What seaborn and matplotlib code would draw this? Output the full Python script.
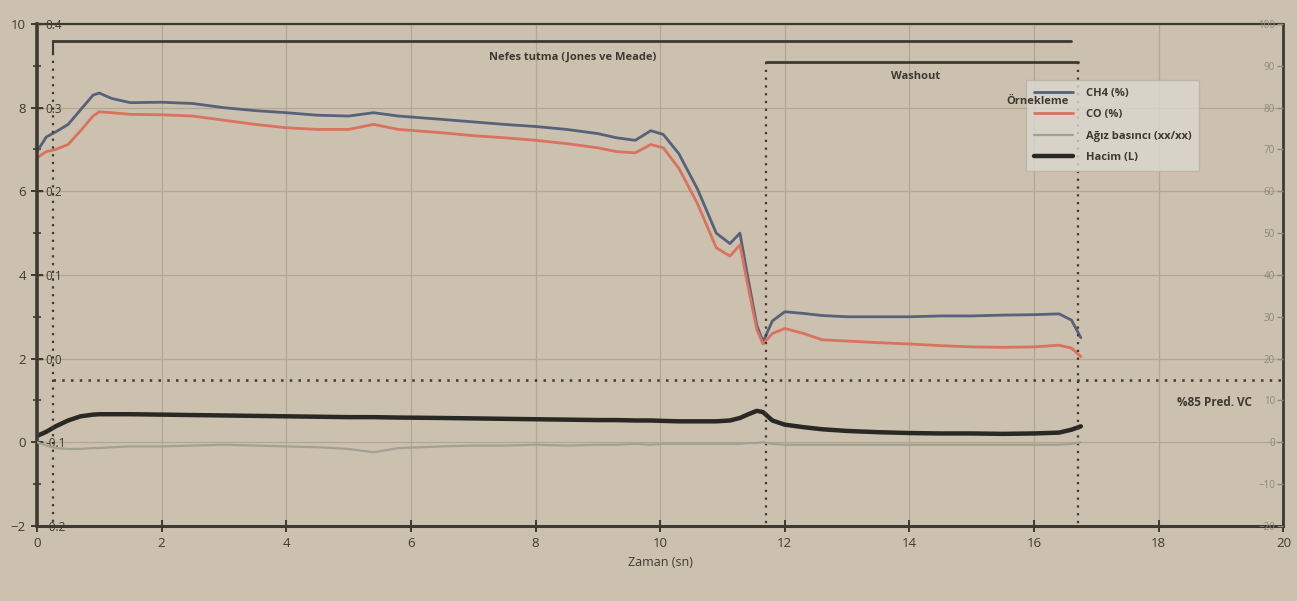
import seaborn as sns
import matplotlib.pyplot as plt
import pandas as pd
from matplotlib.ticker import MultipleLocator

# values (left axis units)
zaman = [0, 0.15, 0.3, 0.5, 0.7, 0.9, 1.0, 1.2, 1.5, 2, 2.5, 3, 3.5, 4, 4.5, 5,
         5.4, 5.8, 6.5, 7, 7.5, 8, 8.5, 9, 9.3, 9.6, 9.85, 10.05, 10.3, 10.6,
         10.9, 11.12, 11.28, 11.4, 11.55, 11.65, 11.8, 12.0, 12.3, 12.6, 13,
         13.5, 14, 14.5, 15, 15.5, 16, 16.4, 16.6, 16.75]
ch4 = [6.95, 7.3, 7.42, 7.6, 7.95, 8.3, 8.35, 8.22, 8.12, 8.13, 8.1, 8.0, 7.93,
       7.88, 7.82, 7.8, 7.88, 7.8, 7.72, 7.66, 7.6, 7.55, 7.48, 7.38, 7.28,
       7.22, 7.45, 7.36, 6.9, 6.05, 5.0, 4.75, 5.0, 4.0, 2.8, 2.4, 2.9, 3.12,
       3.08, 3.03, 3.0, 3.0, 3.0, 3.02, 3.02, 3.04, 3.05, 3.07, 2.92, 2.5]
co = [6.8, 6.95, 7.0, 7.12, 7.45, 7.8, 7.9, 7.88, 7.84, 7.83, 7.8, 7.7, 7.6,
      7.52, 7.48, 7.48, 7.6, 7.48, 7.4, 7.33, 7.28, 7.22, 7.14, 7.04, 6.95,
      6.92, 7.12, 7.04, 6.55, 5.7, 4.65, 4.45, 4.72, 3.8, 2.7, 2.35, 2.6, 2.72,
      2.6, 2.45, 2.42, 2.38, 2.35, 2.31, 2.28, 2.27, 2.28, 2.32, 2.25, 2.05]
hacim = [0.15, 0.25, 0.38, 0.52, 0.62, 0.66, 0.67, 0.67, 0.67, 0.66, 0.65, 0.64,
         0.63, 0.62, 0.61, 0.6, 0.6, 0.59, 0.58, 0.57, 0.56, 0.55, 0.54, 0.53,
         0.53, 0.52, 0.52, 0.51, 0.5, 0.5, 0.5, 0.52, 0.58, 0.66, 0.75, 0.72,
         0.52, 0.42, 0.36, 0.31, 0.27, 0.24, 0.22, 0.21, 0.21, 0.2, 0.21, 0.23,
         0.3, 0.38]
# mouth pressure, inner left axis units
agiz = [-0.1, -0.104, -0.107, -0.108, -0.108, -0.107, -0.107, -0.106, -0.105,
        -0.105, -0.104, -0.103, -0.104, -0.105, -0.106, -0.108, -0.112, -0.107,
        -0.105, -0.104, -0.104, -0.103, -0.104, -0.103, -0.103, -0.102, -0.103,
        -0.102, -0.102, -0.102, -0.102, -0.102, -0.102, -0.101, -0.101, -0.1,
        -0.102, -0.103, -0.103, -0.103, -0.103, -0.103, -0.103, -0.103, -0.103,
        -0.103, -0.103, -0.103, -0.102, -0.1]

sol_ticks = [-2, 0, 2, 4, 6, 8, 10]
ic_ticks = [-0.2, -0.1, 0.0, 0.1, 0.2, 0.3, 0.4]
sag_ticks = list(range(-20, 101, 10))
x_ticks = list(range(0, 21, 2))

pred_vc = 1.5
nefes = (0.25, 16.6)
washout = (11.7, 16.7)

sns.set_theme(style="ticks")
plt.rcParams['font.family'] = ['Open Sans', 'DejaVu Sans']

bg = '#cbc1ae'
dark = '#3e3a31'
fig = plt.figure(figsize=(12.97, 6.01), dpi=100, facecolor=bg)
ax = fig.add_axes([0.0285, 0.125, 0.961, 0.835])
ax.set_facecolor(bg)

df = pd.DataFrame({'Zaman': zaman, 'ch4': ch4, 'co': co, 'hacim': hacim, 'agiz': agiz})

sns.lineplot(data=df, x='Zaman', y='ch4', ax=ax, color='#56627a', lw=2, label='CH4 (%)')
sns.lineplot(data=df, x='Zaman', y='co', ax=ax, color='#d9725f', lw=2, label='CO (%)')
sns.lineplot(data=df, x='Zaman', y='hacim', ax=ax, color='#2a2824', lw=3.2, label='Hacim (L)')

# inner left axis (mouth pressure)
ax2 = ax.twinx()
sns.lineplot(data=df, x='Zaman', y='agiz', ax=ax2, color='#a3a194', lw=1.6,
             label='Ağız basıncı (xx/xx)')
ax2.set_ylim(-0.2, 0.4)
ax2.spines['right'].set_position(('axes', 0))
ax2.set_yticks(ic_ticks, labels=[f'{v:.1f}' for v in ic_ticks])
ax2.tick_params(axis='y', direction='out', length=4, width=1, colors=dark,
                labelsize=8.5, pad=2)
ax2.set_ylabel('')
for s in ['left', 'top', 'bottom', 'right']:
    ax2.spines[s].set_visible(False)

# right percent axis, labels inside
ax3 = ax.twinx()
ax3.set_ylim(-20, 100)
ax3.yaxis.tick_left()
ax3.spines['left'].set_position(('axes', 1))
ax3.set_yticks(sag_ticks)
ax3.tick_params(axis='y', direction='out', length=4, width=1, colors='#8d8a82',
                labelsize=7, pad=2)
for s in ['right', 'top', 'bottom', 'left']:
    ax3.spines[s].set_visible(False)

ax.set_xlim(0, 20)
ax.set_ylim(-2, 10)
ax.set_xticks(x_ticks)
ax.set_yticks(sol_ticks)
ax.yaxis.set_minor_locator(MultipleLocator(1))
ax.grid(True, which='major', color='#b2a791', lw=0.9)
ax.tick_params(axis='both', which='major', direction='inout', length=9, width=1.4,
               colors=dark, labelsize=9.5)
ax.tick_params(axis='y', which='minor', direction='inout', length=6, width=1.2, colors=dark)
ax.set_xlabel('Zaman (sn)', fontsize=9, color=dark)
ax.set_ylabel('')
for s, lw in [('left', 2.6), ('bottom', 2.2), ('top', 1.6), ('right', 2.0)]:
    ax.spines[s].set_color(dark)
    ax.spines[s].set_linewidth(lw)

# phase brackets and markers
ax.plot([nefes[0], nefes[1]], [9.6, 9.6], color=dark, lw=2)
ax.plot([nefes[0], nefes[0]], [9.6, 9.3], color=dark, lw=1.5)
ax.plot([nefes[0], nefes[0]], [9.3, -2], color=dark, lw=1.6, ls=(0, (1, 2.5)))
ax.text(8.6, 9.2, 'Nefes tutma (Jones ve Meade)', ha='center', va='center',
        fontsize=8, fontweight='bold', color=dark)
ax.plot([washout[0], washout[1]], [9.1, 9.1], color=dark, lw=2)
for xv in washout:
    ax.plot([xv, xv], [9.1, -2], color=dark, lw=1.6, ls=(0, (1, 2.5)))
ax.text(14.1, 8.75, 'Washout', ha='center', va='center', fontsize=8,
        fontweight='bold', color=dark)
ax.plot([nefes[0], 20], [pred_vc, pred_vc], color=dark, lw=1.8, ls=(0, (1, 2.5)))
ax.text(19.5, 0.95, '%85 Pred. VC', ha='right', va='center', fontsize=8.5,
        fontweight='bold', color=dark)

# legend on top axes
for a in (ax, ax2):
    if a.get_legend():
        a.get_legend().remove()
h1, l1 = ax.get_legend_handles_labels()
h2, l2 = ax2.get_legend_handles_labels()
handles = [h1[0], h1[1], h2[0], h1[2]]
labels = [l1[0], l1[1], l2[0], l1[2]]
leg = ax3.legend(handles, labels, loc='upper left', bbox_to_anchor=(0.789, 0.9),
                 fontsize=8, frameon=True, facecolor='#dcd8cf', edgecolor='#b9b3a5',
                 framealpha=0.8, fancybox=False, handlelength=3.5,
                 handletextpad=1.2, labelspacing=0.95, borderpad=0.7)
for t in leg.get_texts():
    t.set_color(dark)
    t.set_fontweight('bold')
ax3.text(16.55 / 20, (8.15 + 2) / 12, 'Örnekleme', transform=ax3.transAxes,
         ha='right', va='center', fontsize=8, fontweight='bold', color=dark, zorder=10)

fig.savefig('out.png', dpi=100, facecolor=bg)
